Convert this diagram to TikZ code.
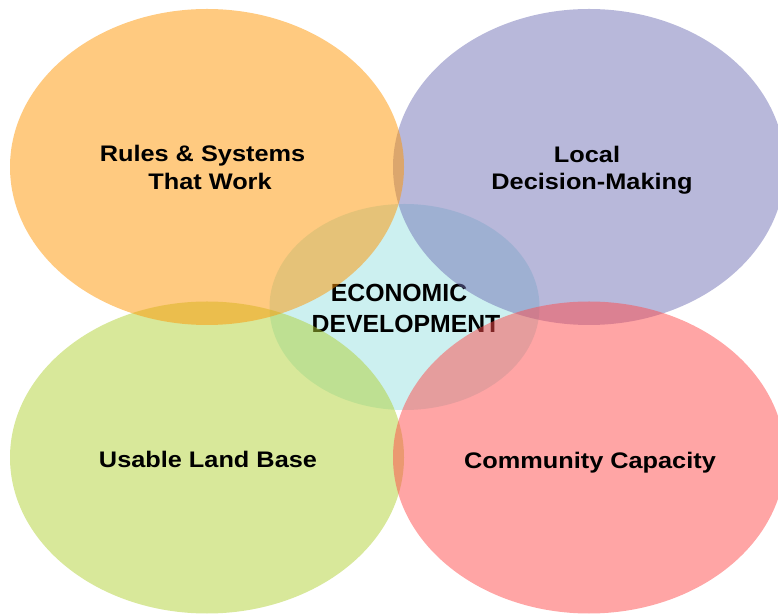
\documentclass[tikz,border=0pt]{standalone}
\usepackage{fontspec}
\setmainfont{Liberation Sans}
\newfontfamily\lblfont{Liberation Sans}[FakeStretch=1.125]
\begin{document}
\begin{tikzpicture}[x=1pt,y=1pt,
  petal/.style={fill opacity=0.5, draw=none},
  lbl/.style={anchor=base, inner sep=0pt, font=\lblfont\bfseries\fontsize{22.5}{27}\selectfont},
  core/.style={anchor=base, inner sep=0pt, font=\bfseries\fontsize{24.8}{30}\selectfont}]
\definecolor{coreCyan}{HTML}{CCF0F0}
\definecolor{rulesOrange}{HTML}{FF9501}
\definecolor{localPurple}{HTML}{7171B5}
\definecolor{landGreen}{HTML}{B1D135}
\definecolor{communityRed}{HTML}{FF4B4B}
\useasboundingbox (0,0) rectangle (778,615);
\clip (0,0) rectangle (778,615);

% central circle and its label sit underneath the four outer circles
\fill[coreCyan] (404.5,308) ellipse [x radius=135, y radius=103];
\node[core] (eco1) at (399,313.3) {ECONOMIC};
\node[core] (eco2) at (406,282.7) {DEVELOPMENT};

% outer circles, translucent
\fill[petal, localPurple]  (589,448) ellipse [x radius=196, y radius=158];
\fill[petal, landGreen]    (207,157.5) ellipse [x radius=197, y radius=156];
\fill[petal, rulesOrange]  (207,448) ellipse [x radius=197, y radius=158];
\fill[petal, communityRed] (589,157.5) ellipse [x radius=196, y radius=156];

% labels
\node[lbl] (rules1) at (202.5,453.3) {Rules \& Systems};
\node[lbl] (rules2) at (210,425) {That Work};
\node[lbl] (local1) at (587,452.7) {Local};
\node[lbl] (local2) at (592,425) {Decision-Making};
\node[lbl] (land)   at (208,147) {Usable Land Base};
\node[lbl] (comm)   at (590,146) {Community Capacity};
\end{tikzpicture}
\end{document}
